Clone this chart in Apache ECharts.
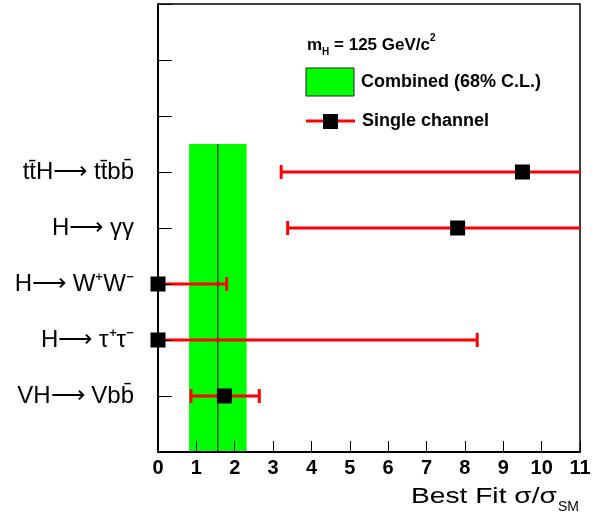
<!DOCTYPE html>
<html><head><meta charset="utf-8">
<script src="https://cdn.jsdelivr.net/npm/echarts@6/dist/echarts.min.js"></script>
<style>html,body{margin:0;padding:0;background:#fff}#c{width:601px;height:514px}</style>
</head><body><div id="c"></div>
<script>
// channels listed bottom (y=1) to top (y=5)
const channels = ['VH\u27F6 Vbb\u0304', 'H\u27F6 \u03C4\u207A\u03C4\u207B', 'H\u27F6 W\u207AW\u207B', 'H\u27F6 \u03B3\u03B3', 'tt\u0304H\u27F6 tt\u0304bb\u0304'];
const channelPos = [1, 2, 3, 4, 5];
const bestFit = [1.73, 0, 0, 7.81, 9.50];
const errLow = [0.86, 0, 0, 3.38, 3.21];
const errHigh = [2.64, 8.32, 1.79, 13.0, 13.0];
const combinedBest = 1.56;
const combinedLow = 0.81;
const combinedHigh = 2.31;
const combinedTop = 5.5;
const xTicks = [0,1,2,3,4,5,6,7,8,9,10,11];

const F = '"Liberation Sans", Arial, Helvetica, sans-serif';
const chart = echarts.init(document.getElementById('c'));

const errData = channelPos.map((y, i) => [errLow[i], errHigh[i], y]);
const ptData = channelPos.map((y, i) => [bestFit[i], y]);

chart.setOption({
  animation: false,
  backgroundColor: '#fff',
  grid: { left: 158, right: 21, top: 4, bottom: 62, show: true, borderColor: '#000', borderWidth: 1.5, backgroundColor: 'transparent' },
  xAxis: {
    type: 'value', min: 0, max: 11, interval: 1, z: 5,
    axisLine: { show: true, lineStyle: { color: '#000', width: 2 } },
    axisTick: { show: true, inside: true, length: 11, lineStyle: { color: '#000', width: 1 } },
    splitLine: { show: false },
    axisLabel: { color: '#000', fontFamily: F, fontWeight: 'bold', fontSize: 20, margin: 6,
      formatter: v => xTicks.indexOf(v) >= 0 ? String(v) : '' }
  },
  yAxis: {
    type: 'value', min: 0, max: 8, interval: 1, z: 5,
    axisLine: { show: true, lineStyle: { color: '#000', width: 2 } },
    axisTick: { show: true, inside: true, length: 14, lineStyle: { color: '#000', width: 1 } },
    splitLine: { show: false },
    axisLabel: { color: '#000', fontFamily: F, fontSize: 24, margin: 24,
      formatter: v => { const i = channelPos.indexOf(v); return i >= 0 ? channels[i] : ''; } }
  },
  series: [
    {
      type: 'custom', z: 1, clip: true,
      data: [[combinedLow, combinedHigh, combinedBest, combinedTop]],
      renderItem: (params, api) => {
        const p0 = api.coord([api.value(0), 0]);
        const p1 = api.coord([api.value(1), api.value(3)]);
        const c0 = api.coord([api.value(2), 0]);
        const c1 = api.coord([api.value(2), api.value(3)]);
        return { type: 'group', children: [
          { type: 'rect', shape: { x: p0[0], y: p1[1], width: p1[0] - p0[0], height: p0[1] - p1[1] }, style: { fill: '#00ff00' } },
          { type: 'line', shape: { x1: c0[0], y1: c0[1], x2: c1[0], y2: c1[1] }, style: { stroke: '#000', lineWidth: 1 } }
        ]};
      }
    },
    {
      type: 'custom', z: 3, clip: true,
      data: errData,
      renderItem: (params, api) => {
        const a = api.coord([api.value(0), api.value(2)]);
        const b = api.coord([api.value(1), api.value(2)]);
        const st = { stroke: '#ff0000', lineWidth: 3 };
        return { type: 'group', children: [
          { type: 'line', shape: { x1: a[0], y1: a[1], x2: b[0], y2: b[1] }, style: st },
          { type: 'line', shape: { x1: a[0], y1: a[1] - 7, x2: a[0], y2: a[1] + 7 }, style: st },
          { type: 'line', shape: { x1: b[0], y1: b[1] - 7, x2: b[0], y2: b[1] + 7 }, style: st }
        ]};
      }
    },
    {
      type: 'scatter', z: 4, symbol: 'rect', symbolSize: 15,
      itemStyle: { color: '#000', opacity: 1 }, emphasis: { disabled: true }, data: ptData
    }
  ],
  graphic: [
    { type: 'text', x: 307, y: 33, style: {
        text: '{a|m}{s|H}{a| = 125 GeV/c}{p|2}',
        rich: {
          a: { font: 'bold 17px ' + F, fill: '#000', lineHeight: 24, verticalAlign: 'middle' },
          s: { font: 'bold 10px ' + F, fill: '#000', lineHeight: 24, verticalAlign: 'bottom' },
          p: { font: 'bold 10px ' + F, fill: '#000', lineHeight: 24, verticalAlign: 'top' }
        } } },
    { type: 'rect', shape: { x: 306, y: 68, width: 48, height: 28 }, style: { fill: '#00ff00', stroke: '#222', lineWidth: 1 } },
    { type: 'text', x: 361, y: 82, style: { text: 'Combined (68% C.L.)', font: 'bold 18px ' + F, fill: '#000', verticalAlign: 'middle' } },
    { type: 'line', shape: { x1: 306, y1: 121, x2: 355, y2: 121 }, style: { stroke: '#ff0000', lineWidth: 3 } },
    { type: 'rect', shape: { x: 323, y: 114, width: 15, height: 15 }, style: { fill: '#000' } },
    { type: 'text', x: 362, y: 121, style: { text: 'Single channel', font: 'bold 18px ' + F, fill: '#000', verticalAlign: 'middle' } },
    { type: 'text', x: 411, y: 497, scaleX: 1.28, style: { text: 'Best Fit \u03C3/\u03C3', font: '22px ' + F, fill: '#000', verticalAlign: 'middle' } },
    { type: 'text', x: 558, y: 507, style: { text: 'SM', font: '14px ' + F, fill: '#000', verticalAlign: 'middle' } }
  ]
});
</script>
</body></html>
